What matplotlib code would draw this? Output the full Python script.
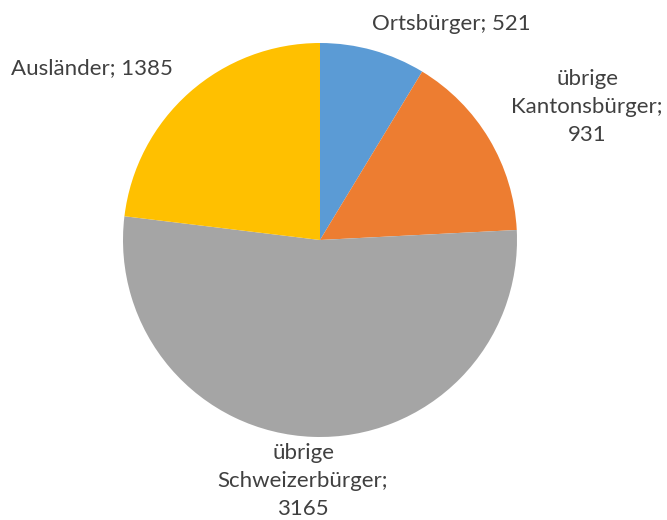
import matplotlib.pyplot as plt

# population by citizenship (Excel-style pie)
categories = ["Ortsbürger", "übrige\nKantonsbürger", "übrige\nSchweizerbürger", "Ausländer"]
values = [521, 931, 3165, 1385]
colors = ["#5B9BD5", "#ED7D31", "#A5A5A5", "#FFC000"]

W, H = 667, 520
fig = plt.figure(figsize=(W / 100, H / 100), dpi=100)
ax = fig.add_axes([0, 0, 1, 1])

ax.pie(values, colors=colors, startangle=90, counterclock=False,
       center=(320, H - 240), radius=197, frame=True,
       wedgeprops=dict(linewidth=0))
ax.set_xlim(0, W)
ax.set_ylim(0, H)
ax.axis("off")

# label anchors in pixel space (x, y from top), one per slice
label_pos = [(451, 24), (587, 107), (303, 481), (92, 68)]
for cat, val, (x, y) in zip(categories, values, label_pos):
    sep = "; " if "\n" not in cat else ";\n"
    ax.text(x, H - y, f"{cat}{sep}{val}", ha="center", va="center",
            fontsize=16, color="#404040", family=["Lato", "DejaVu Sans"],
            linespacing=1.5, multialignment="center")

fig.savefig("out.png", dpi=100)
